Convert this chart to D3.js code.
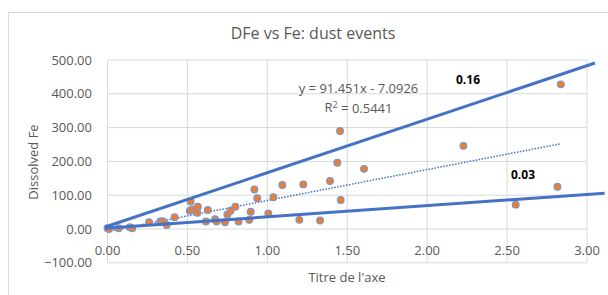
<!DOCTYPE html>
<meta charset="utf-8">
<title>DFe vs Fe: dust events</title>
<style>

    body {
        margin: 0;
        background: #fff;
        font-family: "Open Sans", "Noto Sans", sans-serif;
    }

</style>
<body>
<script src="https://d3js.org/d3.v7.min.js"></script>
<script>

    // Titre de l'axe (x) vs Dissolved Fe (y)
    var feValues = [0.00, 0.01, 0.07, 0.14, 0.155, 0.26, 0.33, 0.345, 0.37, 0.42,
        0.515, 0.52, 0.53, 0.562, 0.565, 0.616, 0.627, 0.673, 0.683, 0.735,
        0.75, 0.77, 0.80, 0.82, 0.887, 0.896, 0.919, 0.937, 1.006, 1.038,
        1.094, 1.20, 1.225, 1.33, 1.392, 1.438, 1.455, 1.459, 1.605, 2.227,
        2.554, 2.815, 2.836];
    var dfeValues = [2, 0, 2, 5, 2, 20, 22, 23, 12, 35,
        54, 81, 58, 48, 66, 22, 56, 29, 22, 20,
        43, 54, 66, 22, 27, 51, 117, 91, 46, 94,
        130, 27, 132, 25, 142, 196, 290, 86, 178, 246,
        72, 125, 428];

    // hand drawn guide lines (slope labels 0.16 and 0.03)
    var upperLine = [[-0.015, 6], [3.05, 491]];
    var lowerLine = [[-0.016, 2], [3.11, 106]];

    // linear trendline shown on the chart
    var trendSlope = 91.451, trendIntercept = -7.0926;

    var xTicks = [0, 0.5, 1, 1.5, 2, 2.5, 3];
    var yTicks = [-100, 0, 100, 200, 300, 400, 500];

    var width = 608, height = 295;
    var textColor = "#595959", gridColor = "#d9d9d9", blue = "#4472c4";

    var svg = d3.select("body").append("svg")
        .attr("width", width)
        .attr("height", height);

    // chart frame
    svg.append("path")
        .attr("d", "M8.5," + height + "V12.5H" + width)
        .attr("fill", "none")
        .attr("stroke", "#d9d9d9");

    var x = d3.scaleLinear().domain([0, 3]).range([107.5, 587]);
    var y = d3.scaleLinear().domain([-100, 500]).range([262.8, 60]);

    // gridlines
    svg.append("g").selectAll("line")
        .data(yTicks)
        .enter().append("line")
        .attr("x1", x(0)).attr("x2", x(3))
        .attr("y1", function(d) { return y(d); })
        .attr("y2", function(d) { return y(d); })
        .attr("stroke", gridColor);

    svg.append("g").selectAll("line")
        .data(xTicks)
        .enter().append("line")
        .attr("x1", function(d) { return x(d); })
        .attr("x2", function(d) { return x(d); })
        .attr("y1", y(-100)).attr("y2", y(500))
        .attr("stroke", gridColor);

    // y tick labels
    svg.append("g").selectAll("text")
        .data(yTicks)
        .enter().append("text")
        .attr("x", 92)
        .attr("y", function(d) { return y(d); })
        .attr("dy", "0.35em")
        .attr("text-anchor", "end")
        .attr("font-size", 13)
        .attr("fill", textColor)
        .text(function(d) { return d3.format(".2f")(d); });

    // x tick labels sit under the zero line
    svg.append("g").selectAll("text")
        .data(xTicks)
        .enter().append("text")
        .attr("x", function(d) { return x(d); })
        .attr("y", y(0) + 21)
        .attr("dy", "0.35em")
        .attr("text-anchor", "middle")
        .attr("font-size", 13)
        .attr("fill", textColor)
        .text(function(d) { return d3.format(".2f")(d); });

    // titles
    svg.append("text")
        .attr("x", 313).attr("y", 33)
        .attr("dy", "0.35em")
        .attr("text-anchor", "middle")
        .attr("font-size", 16)
        .attr("fill", textColor)
        .text("DFe vs Fe: dust events");

    svg.append("text")
        .attr("x", 347).attr("y", 277)
        .attr("dy", "0.35em")
        .attr("text-anchor", "middle")
        .attr("font-size", 13)
        .attr("fill", textColor)
        .text("Titre de l'axe");

    svg.append("text")
        .attr("transform", "translate(33,162) rotate(-90)")
        .attr("dy", "0.35em")
        .attr("text-anchor", "middle")
        .attr("font-size", 13)
        .attr("fill", textColor)
        .text("Dissolved Fe");

    var line = d3.line()
        .x(function(d) { return x(d[0]); })
        .y(function(d) { return y(d[1]); });

    // dotted trendline from min x to max x
    var xExtent = d3.extent(feValues);
    var trend = xExtent.map(function(v) { return [v, trendSlope * v + trendIntercept]; });
    svg.append("path")
        .attr("d", line(trend))
        .attr("fill", "none")
        .attr("stroke", blue)
        .attr("stroke-width", 1.5)
        .attr("stroke-dasharray", "1.5,1.5");

    // points
    svg.append("g").selectAll("circle")
        .data(feValues)
        .enter().append("circle")
        .attr("cx", function(d) { return x(d); })
        .attr("cy", function(d, i) { return y(dfeValues[i]); })
        .attr("r", 3.4)
        .attr("fill", "#ed7d31")
        .attr("stroke", "#7496d4")
        .attr("stroke-width", 1.1);

    // guide lines
    [upperLine, lowerLine].forEach(function(l) {
        svg.append("path")
            .attr("d", line(l))
            .attr("fill", "none")
            .attr("stroke", blue)
            .attr("stroke-width", 3);
    });

    // trendline label
    svg.append("text")
        .attr("x", 358.5).attr("y", 88)
        .attr("dy", "0.35em")
        .attr("text-anchor", "middle")
        .attr("font-size", 13)
        .attr("fill", textColor)
        .text("y = " + trendSlope + "x - " + (-trendIntercept));
    var r2 = svg.append("text")
        .attr("x", 358.5).attr("y", 107)
        .attr("dy", "0.35em")
        .attr("text-anchor", "middle")
        .attr("font-size", 13)
        .attr("fill", textColor);
    r2.append("tspan").text("R");
    r2.append("tspan").attr("dy", "-0.4em").attr("font-size", 9).text("2");
    r2.append("tspan").attr("dy", "0.4em").text(" = 0.5441");

    // slope labels
    svg.append("text")
        .attr("x", 468).attr("y", 80)
        .attr("dy", "0.35em")
        .attr("text-anchor", "middle")
        .attr("font-size", 12)
        .attr("font-weight", "bold")
        .attr("fill", "#000")
        .text("0.16");
    svg.append("text")
        .attr("x", 523).attr("y", 175)
        .attr("dy", "0.35em")
        .attr("text-anchor", "middle")
        .attr("font-size", 12)
        .attr("font-weight", "bold")
        .attr("fill", "#000")
        .text("0.03");

</script>
</body>
